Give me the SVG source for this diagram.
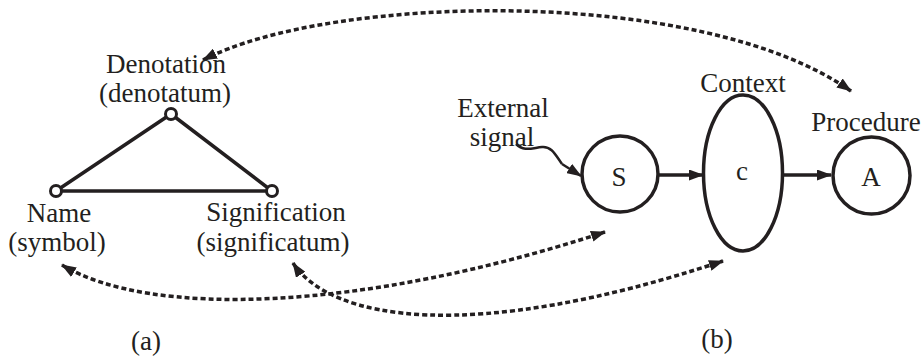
<svg xmlns="http://www.w3.org/2000/svg" width="923" height="360" viewBox="0 0 923 360">
<style>
text{font-family:"Liberation Serif","Times New Roman",serif;font-size:27px;fill:#231f20;text-anchor:middle}
.ln{stroke:#231f20;stroke-width:3.5;fill:none}
.dot{stroke:#231f20;stroke-width:3.5;fill:none;stroke-dasharray:5 3}
.nd{stroke:#231f20;stroke-width:3.5;fill:#fff}
.v{stroke:#231f20;stroke-width:3;fill:#fff}
</style>
<defs>
<marker id="ah" viewBox="0 0 15 11" refX="14" refY="5.5" markerWidth="15" markerHeight="11" markerUnits="userSpaceOnUse" orient="auto-start-reverse">
<path d="M0,0 L15,5.5 L0,11 Z" fill="#231f20"/>
</marker>
</defs>
<g id="connectors">
<path class="ln" d="M56,191 L171,114 L272,191 Z"/>
<path class="dot" d="M203,60 C330,-6 700,-15 851,91" marker-start="url(#ah)" marker-end="url(#ah)"/>
<path class="dot" d="M62,265 C150,318 360,312 605,232" marker-start="url(#ah)" marker-end="url(#ah)"/>
<path class="dot" d="M293,263 C330,320 470,345 723,261" marker-start="url(#ah)" marker-end="url(#ah)"/>
<path class="ln" d="M516,144 C524,152 532,148 542,147 C552,146 556,156 562,164" style="stroke-width:2.5"/>
<path class="ln" d="M562,164 L581,176" style="stroke-width:2.5" marker-end="url(#ah)"/>
<path class="ln" d="M659,175 L703,175" marker-end="url(#ah)"/>
<path class="ln" d="M783,175 L831,175" marker-end="url(#ah)"/>
</g>
<g id="denotation">
<circle class="v" cx="171" cy="114" r="5.5"/>
<text x="166" y="73">Denotation</text>
<text x="165" y="102">(denotatum)</text>
</g>
<g id="name">
<circle class="v" cx="56" cy="191" r="5.5"/>
<text x="59" y="222">Name</text>
<text x="57" y="251">(symbol)</text>
</g>
<g id="signification">
<circle class="v" cx="272" cy="191" r="5.5"/>
<text x="276" y="221">Signification</text>
<text x="273" y="251">(significatum)</text>
</g>
<g id="external">
<text x="503" y="117">External</text>
<text x="502" y="146">signal</text>
</g>
<g id="S">
<circle class="nd" cx="620" cy="174" r="38"/>
<text x="619" y="186">S</text>
</g>
<g id="c">
<ellipse class="nd" cx="743" cy="173" rx="39.5" ry="78"/>
<text x="743" y="92">Context</text>
<text x="742" y="180">c</text>
</g>
<g id="A">
<circle class="nd" cx="871.5" cy="175.5" r="38.5"/>
<text x="866" y="131">Procedure</text>
<text x="871" y="186">A</text>
</g>
<g id="labels">
<text x="146" y="350">(a)</text>
<text x="717" y="348">(b)</text>
</g>
</svg>
